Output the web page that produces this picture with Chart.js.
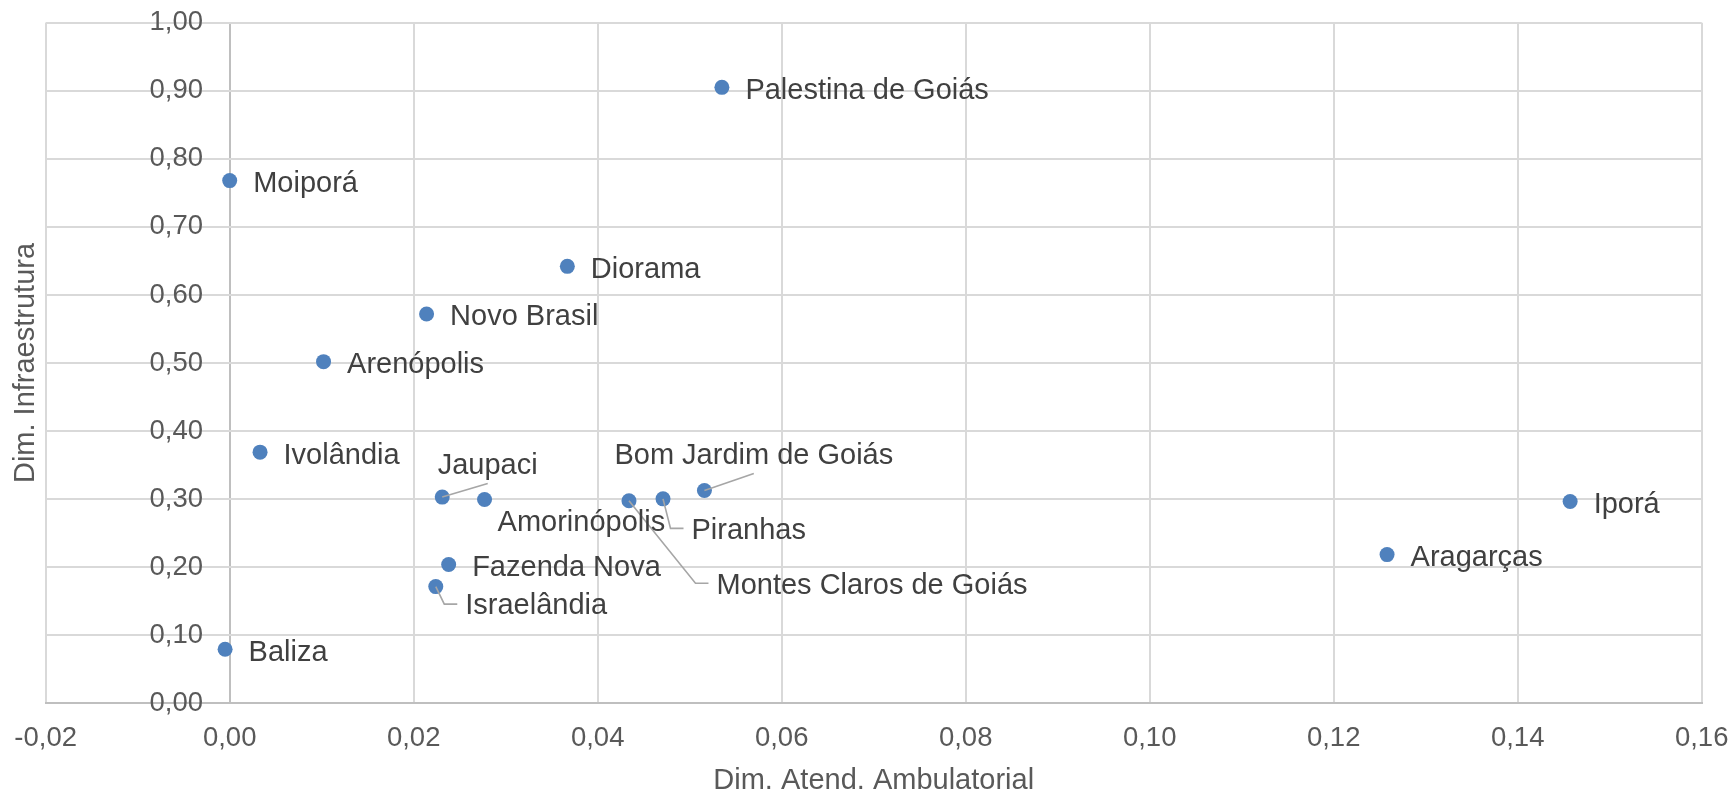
<!DOCTYPE html>
<html lang="pt-BR">
<head>
<meta charset="utf-8">
<title>Dim. Infraestrutura x Dim. Atend. Ambulatorial</title>
<script src="https://cdn.jsdelivr.net/npm/chart.js@4/dist/chart.umd.min.js"></script>
<style>
  html, body { margin: 0; padding: 0; background: #ffffff; }
  #wrap { width: 1734px; height: 795px; }
  canvas { display: block; }
</style>
</head>
<body>
<div id="wrap"><canvas id="chart" width="1734" height="795"></canvas></div>
<script>
// Municípios e valores das duas dimensões
const municipios = [
  'Palestina de Goiás', 'Moiporá', 'Diorama', 'Novo Brasil', 'Arenópolis',
  'Ivolândia', 'Jaupaci', 'Amorinópolis', 'Montes Claros de Goiás', 'Piranhas',
  'Bom Jardim de Goiás', 'Fazenda Nova', 'Israelândia', 'Baliza', 'Iporá', 'Aragarças'
];
const atendAmbulatorial = [
  0.0535, 0.0000, 0.0367, 0.0214, 0.0102,
  0.0033, 0.0231, 0.0277, 0.0434, 0.0471,
  0.0516, 0.0238, 0.0224, -0.0005, 0.1457, 0.1258
];
const infraestrutura = [
  0.905, 0.768, 0.642, 0.572, 0.502,
  0.369, 0.303, 0.2995, 0.2975, 0.3004,
  0.3126, 0.204, 0.1715, 0.0794, 0.2965, 0.2185
];
const xTickLabels = ['-0,02', '0,00', '0,02', '0,04', '0,06', '0,08', '0,10', '0,12', '0,14', '0,16'];
const yTickLabels = ['0,00', '0,10', '0,20', '0,30', '0,40', '0,50', '0,60', '0,70', '0,80', '0,90', '1,00'];

// Aparência
const FONT = '"Liberation Sans", Arial, Helvetica, sans-serif';
const AXIS_TEXT = '#595959';
const LABEL_TEXT = '#404040';
const GRID = '#d9d9d9';
const AXIS_LINE = '#bfbfbf';
const LEADER = '#a6a6a6';
const MARKER = '#4f81bd';
const LABEL_SIZE = 29;
const TICK_SIZE = 27.5;
// os rótulos do eixo vertical ficam um pouco à esquerda da linha x = 0
const Y_LABEL_ANCHOR = -0.0029;

// Rótulos deslocados (em px a partir do ponto) e linhas de chamada
const DEFAULT_LABEL = { dx: 23.5, dy: 1 };
const labelPlacement = {
  'Jaupaci':                { dx: -4.5, dy: -33.5, leader: 'below' },
  'Bom Jardim de Goiás':    { dx: -90,  dy: -37,   leader: 'below' },
  'Amorinópolis':           { dx: 13,   dy: 21 },
  'Piranhas':               { dx: 28.5, dy: 29.5,  leader: 'side' },
  'Montes Claros de Goiás': { dx: 87.5, dy: 82.5,  leader: 'side' },
  'Israelândia':            { dx: 29.5, dy: 17.5,  leader: 'side' }
};

const nearZero = v => Math.abs(v) < 1e-9;

const pointLabels = {
  id: 'pointLabels',
  afterDatasetsDraw(chart) {
    const ctx = chart.ctx;
    const meta = chart.getDatasetMeta(0);
    ctx.save();
    ctx.font = LABEL_SIZE + 'px ' + FONT;
    ctx.textBaseline = 'alphabetic';
    ctx.textAlign = 'left';
    const capHalf = LABEL_SIZE * 0.358;
    const items = meta.data.map((pt, i) => {
      const name = municipios[i];
      const p = labelPlacement[name] || DEFAULT_LABEL;
      return { name, p, px: pt.x, py: pt.y, left: pt.x + p.dx, mid: pt.y + p.dy,
               w: ctx.measureText(name).width };
    });
    // linhas de chamada
    ctx.strokeStyle = LEADER;
    ctx.lineWidth = 1.6;
    items.forEach(it => {
      if (!it.p.leader) return;
      ctx.beginPath();
      ctx.moveTo(it.px, it.py);
      if (it.p.leader === 'below') {
        ctx.lineTo(it.left + it.w / 2, it.mid + 20);
      } else {
        ctx.lineTo(it.left - 21, it.mid);
        ctx.lineTo(it.left - 8, it.mid);
      }
      ctx.stroke();
    });
    // textos
    ctx.fillStyle = LABEL_TEXT;
    items.forEach(it => ctx.fillText(it.name, it.left, it.mid + capHalf));
    ctx.restore();
  }
};

const points = municipios.map((m, i) => ({ x: atendAmbulatorial[i], y: infraestrutura[i] }));

new Chart(document.getElementById('chart'), {
  type: 'scatter',
  data: {
    datasets: [{
      label: 'Municípios',
      data: points,
      backgroundColor: MARKER,
      borderColor: MARKER,
      borderWidth: 0,
      pointRadius: 7.5,
      pointHoverRadius: 7.5
    }]
  },
  options: {
    responsive: false,
    devicePixelRatio: 1,
    animation: false,
    events: [],
    layout: { padding: { top: 22.7, right: 32.3, bottom: 0, left: 0 } },
    plugins: { legend: { display: false }, tooltip: { enabled: false } },
    scales: {
      x: {
        type: 'linear',
        position: 'bottom',
        min: -0.02,
        max: 0.16,
        ticks: {
          stepSize: 0.02,
          autoSkip: false,
          maxRotation: 0,
          padding: 19,
          color: AXIS_TEXT,
          font: { family: FONT, size: TICK_SIZE, lineHeight: 1.2 },
          callback: v => xTickLabels[Math.round((v + 0.02) / 0.02)]
        },
        grid: {
          drawTicks: false,
          lineWidth: 2,
          color: c => (c.tick && nearZero(c.tick.value)) ? AXIS_LINE : GRID
        },
        border: { display: true, color: AXIS_LINE, width: 2 },
        title: {
          display: true,
          text: 'Dim. Atend. Ambulatorial',
          color: AXIS_TEXT,
          font: { family: FONT, size: 29, lineHeight: 1 },
          padding: 0
        },
        afterFit: s => { s.height = 91.7; s.paddingLeft = 0; s.paddingRight = 0; }
      },
      y: {
        type: 'linear',
        position: { x: Y_LABEL_ANCHOR },
        min: 0,
        max: 1,
        ticks: {
          stepSize: 0.1,
          padding: 0,
          color: AXIS_TEXT,
          font: { family: FONT, size: TICK_SIZE, lineHeight: 1.2 },
          callback: v => yTickLabels[Math.round(v * 10)]
        },
        grid: {
          drawTicks: false,
          lineWidth: 2,
          color: c => (c.tick && nearZero(c.tick.value)) ? AXIS_LINE : GRID
        },
        border: { display: false },
        afterFit: s => { s.paddingTop = 0; s.paddingBottom = 0; }
      },
      yTitle: {
        type: 'linear',
        axis: 'y',
        position: 'left',
        ticks: { display: false },
        grid: { display: false },
        border: { display: false },
        title: {
          display: true,
          text: 'Dim. Infraestrutura',
          color: AXIS_TEXT,
          font: { family: FONT, size: 29, lineHeight: 1 },
          padding: { top: 11.5, bottom: 0 }
        },
        afterFit: s => { s.width = 45.7; s.paddingTop = 0; s.paddingBottom = 0; }
      }
    }
  },
  plugins: [pointLabels]
});
</script>
</body>
</html>
